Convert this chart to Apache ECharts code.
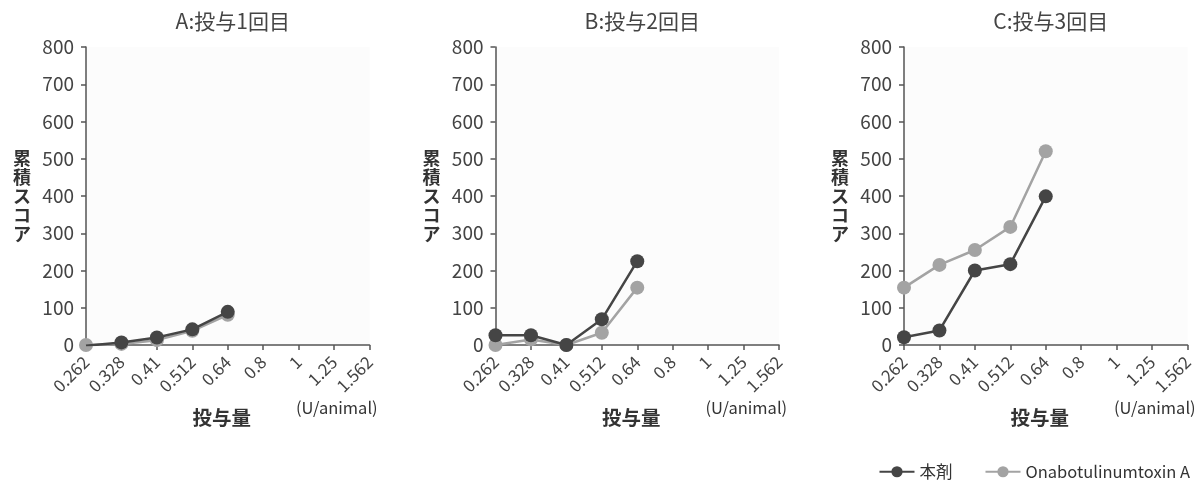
<!DOCTYPE html>
<html><head><meta charset="utf-8">
<script src="https://cdn.jsdelivr.net/npm/echarts@6/dist/echarts.min.js"></script>
<style>html,body{margin:0;padding:0;background:#fff}#c{width:1203px;height:488px}</style>
</head><body><div id="c"></div>
<script>
const doses = ['0.262','0.328','0.41','0.512','0.64','0.8','1','1.25','1.562'];
const yTicks = [0,100,200,300,400,500,600,700,800];
const panelTitles = ['A:投与1回目','B:投与2回目','C:投与3回目'];
const seriesNames = ['本剤','Onabotulinumtoxin A'];
const drugA = [-2, 7, 20, 42, 89];
const onaA  = [0, 3, 13, 38, 81];
const drugB = [26, 26, 0, 69, 225];
const onaB  = [0, 15, 0, 33, 154];
const drugC = [21, 39, 200, 217, 399];
const onaC  = [154, 215, 255, 317, 520];

const font = '"Noto Sans CJK JP", "Noto Sans", sans-serif';
const dark = '#454545', gray = '#a3a3a3', axisCol = '#555';
const lefts = [86, 495.5, 904];
const W = 283.5, TOP = 47, H = 298;
const data = [[drugA, onaA],[drugB, onaB],[drugC, onaC]];

const grids = [], xAxes = [], yAxes = [], series = [], titles = [], graphics = [];
lefts.forEach((l, i) => {
  grids.push({left: l, top: TOP, width: W, height: H, show: true, backgroundColor: '#fcfcfc', borderWidth: 0, containLabel: false});
  xAxes.push({type: 'category', gridIndex: i, data: doses, boundaryGap: false,
    axisLine: {lineStyle: {color: axisCol, width: 1.5}},
    axisTick: {show: true, alignWithLabel: true, length: 5, lineStyle: {color: axisCol, width: 1.5}},
    axisLabel: {rotate: 45, interval: 0, color: '#444', fontSize: 17, fontFamily: font, margin: 14},
    name: '投与量', nameLocation: 'middle', nameGap: 63,
    nameTextStyle: {color: '#333', fontSize: 19.5, fontWeight: 'bold', fontFamily: font, padding: [0, 12, 0, 0]},
    splitLine: {show: false}});
  yAxes.push({type: 'value', gridIndex: i, min: 0, max: 800, interval: 100,
    axisLine: {show: true, lineStyle: {color: axisCol, width: 1.5}},
    axisTick: {show: true, length: 5, lineStyle: {color: axisCol, width: 1.5}},
    axisLabel: {color: '#444', fontSize: 19, fontFamily: font, margin: 12},
    splitLine: {show: false},
    name: '累\n積\nス\nコ\nア', nameLocation: 'middle', nameGap: 55, nameRotate: 0,
    nameTextStyle: {color: '#333', fontSize: 18, fontWeight: 'bold', fontFamily: font, lineHeight: 19}});
  titles.push({text: panelTitles[i], left: l + W / 2, top: 6, textAlign: 'center',
    textStyle: {color: '#444', fontSize: 21, fontWeight: 'normal', fontFamily: font}});
  graphics.push({type: 'text', left: l + 210, top: 399,
    style: {text: '(U/animal)', fill: '#333', font: '16.5px ' + font}});
  [1, 0].forEach(s => {
    series.push({type: 'line', name: seriesNames[s], xAxisIndex: i, yAxisIndex: i,
      data: data[i][s], symbol: 'circle', symbolSize: 14, z: s === 0 ? 3 : 2,
      lineStyle: {color: s === 0 ? dark : gray, width: 2.5},
      itemStyle: {color: s === 0 ? dark : gray}});
  });
});

const chart = echarts.init(document.getElementById('c'));
chart.setOption({
  animation: false,
  title: titles,
  grid: grids, xAxis: xAxes, yAxis: yAxes, series: series,
  graphic: graphics,
  legend: {data: seriesNames, right: 8, bottom: 3, itemWidth: 35, itemHeight: 14, itemGap: 32,
    textStyle: {color: '#333', fontSize: 16.5, fontFamily: font}}
});
</script></body></html>
